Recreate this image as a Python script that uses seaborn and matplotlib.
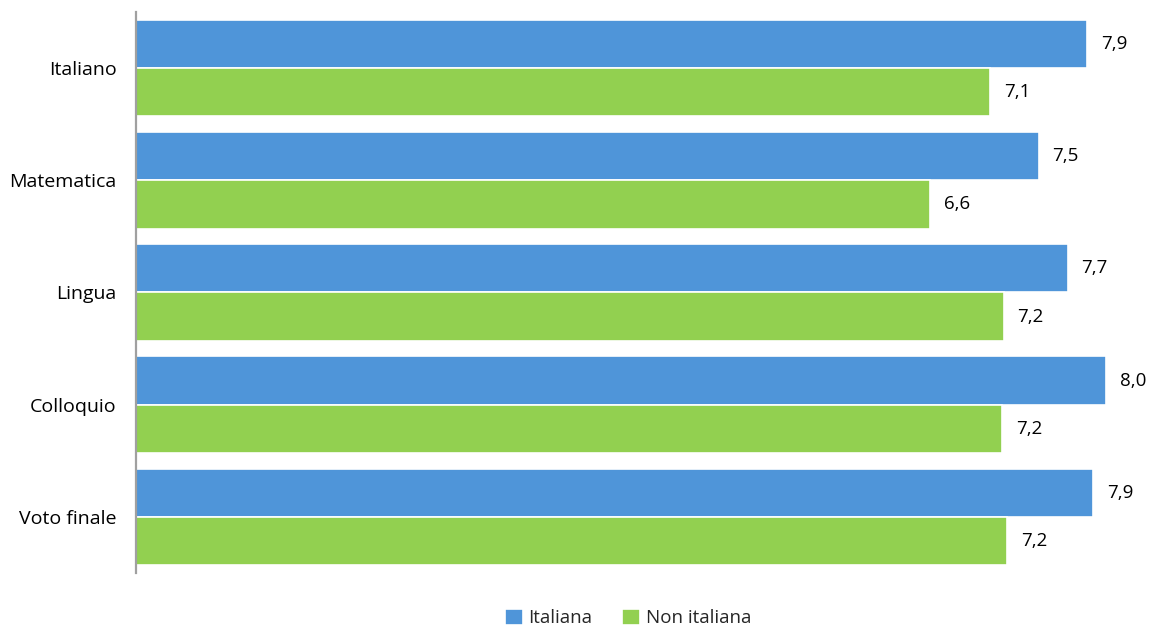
import matplotlib
matplotlib.use("Agg")
import matplotlib.pyplot as plt
import seaborn as sns
import pandas as pd

categories = ["Italiano", "Matematica", "Lingua", "Colloquio", "Voto finale"]
series_names = ["Italiana", "Non italiana"]
italiana = [7.86, 7.46, 7.70, 8.02, 7.91]
non_italiana = [7.06, 6.56, 7.17, 7.16, 7.20]

colors = ["#4F95D9", "#92D050"]

df = pd.DataFrame({
    "Materia": categories * 2,
    "Cittadinanza": [series_names[0]] * len(categories) + [series_names[1]] * len(categories),
    "Voto": italiana + non_italiana,
})

sns.set_theme(style="white")
plt.rcParams["font.family"] = ["Open Sans", "DejaVu Sans"]

W, H = 1149, 627
fig = plt.figure(figsize=(W / 100, H / 100), dpi=100)
ax = fig.add_axes([136 / W, (H - 573) / H, (1140 - 136) / W, 561 / H])

sns.barplot(data=df, y="Materia", x="Voto", hue="Cittadinanza",
            order=categories, hue_order=series_names, palette=colors,
            orient="h", width=0.86, edgecolor="white", linewidth=1.2,
            saturation=1, ax=ax, legend=True)

ax.set_xlim(0, (1140 - 136) / 121.0)
ax.set_ylim(len(categories) - 0.5, -0.5)
ax.set_xlabel("")
ax.set_ylabel("")
ax.set_xticks([])
ax.tick_params(axis="y", length=0, labelsize=14, pad=14, colors="#000000")

for s in ["top", "right", "bottom"]:
    ax.spines[s].set_visible(False)
ax.spines["left"].set_color("#A0A0A0")
ax.spines["left"].set_linewidth(1.6)

for cont in ax.containers:
    ax.bar_label(cont, labels=[f"{v:.1f}".replace(".", ",") for v in cont.datavalues],
                 padding=10, fontsize=13.5, color="#000000")

leg = ax.legend(loc="center", bbox_to_anchor=(628 / W, (H - 618) / H),
                bbox_transform=fig.transFigure, ncol=2, frameon=False,
                fontsize=13.5, handlelength=0.95, handleheight=0.95,
                handletextpad=0.3, columnspacing=1.6)

fig.savefig("out.png", dpi=100)
